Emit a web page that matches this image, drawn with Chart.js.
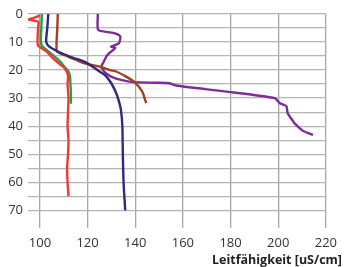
<!DOCTYPE html>
<html>
<head>
<meta charset="utf-8">
<script src="https://cdn.jsdelivr.net/npm/chart.js@4/dist/chart.umd.min.js"></script>
<style>
  html, body { margin: 0; padding: 0; background: #fff; }
  #wrap { width: 344px; height: 267px; position: relative; }
</style>
</head>
<body>
<div id="wrap"><canvas id="leitChart"></canvas></div>
<script>
var xTicks = [100, 120, 140, 160, 180, 200, 220];
var depthTicks = [0, 5, 10, 15, 20, 25, 30, 35, 40, 45, 50, 55, 60, 65, 70];
var xTitle = 'Leitfähigkeit [uS/cm]';

var redDepth = [0.5, 1.2, 2, 2.8, 5, 10, 11.2, 12, 13.3, 15.7, 17.5, 19, 20.5, 22, 25, 30, 35, 40, 45, 50, 55, 60, 65];
var redValue = [100, 98, 95.3, 99.4, 99.2, 99, 99.2, 100.4, 102.7, 105.4, 107.8, 110, 111.2, 111.8, 111.6, 112, 111.8, 111.6, 112, 111.8, 111.4, 111.6, 112];

var greenDepth = [0, 5, 10, 11.5, 13, 15, 17, 19, 20.5, 22, 25, 28, 32];
var greenValue = [100.8, 100.6, 100.4, 101, 103, 106, 108.5, 110.5, 112, 112.6, 112.8, 113, 113];

var navyDepth = [0, 5, 9.5, 11, 12.1, 13.9, 15.7, 16.9, 18.7, 20.5, 21.7, 24.6, 28.2, 31, 34.2, 40, 50, 60, 70];
var navyValue = [103.5, 103.1, 102.6, 103.2, 104.8, 108.9, 114.3, 118.4, 122, 125, 127.2, 129.9, 132, 133.1, 134, 134.6, 134.8, 135.1, 135.8];

var brownDepth = [0, 5, 10, 13.4, 15.1, 16.3, 17.5, 18.2, 18.9, 20, 20.5, 22, 24.1, 27.6, 31.8];
var brownValue = [107.5, 107.3, 107, 107.2, 111.6, 115, 118.4, 122, 125.5, 129.5, 132, 135.5, 139.5, 142.9, 144.6];

var purpleDepth = [0, 5.6, 6.4, 6.9, 8, 10.4, 11.6, 12.1, 13.9, 15.1, 17, 18.7, 20, 21.3, 22.3, 23.5, 24.3, 24.5, 24.7, 25.5, 27.6, 30, 31.8, 32.8, 35.4, 37.8, 38.9, 41.3, 41.9, 43.1];
var purpleValue = [124.3, 124.4, 128, 131.5, 133.7, 133.2, 129.9, 131.6, 129.2, 127.9, 126.8, 125.8, 126.5, 128, 129.9, 134, 139.4, 149, 154.3, 157.1, 177.6, 198.6, 200.7, 203.4, 204, 205.9, 206.8, 209.8, 210.9, 214.6];

function buildDataset(depth, value, color) {
  var pts = [];
  for (var i = 0; i < depth.length; i++) {
    pts.push({ x: value[i], y: depth[i] });
  }
  return {
    data: pts,
    showLine: true,
    fill: false,
    borderColor: color,
    backgroundColor: color,
    borderWidth: 2.4,
    pointRadius: 0,
    tension: 0.2
  };
}

var tickFont = { family: 'Open Sans', size: 13 };

var titlePlugin = {
  id: 'xTitle',
  afterDraw: function (chart) {
    var ctx = chart.ctx;
    ctx.save();
    ctx.font = 'bold 12.5px "Open Sans"';
    ctx.fillStyle = '#222';
    ctx.textAlign = 'right';
    ctx.textBaseline = 'middle';
    ctx.fillText(xTitle, 342, 260);
    ctx.restore();
  }
};

new Chart(document.getElementById('leitChart').getContext('2d'), {
  type: 'scatter',
  data: {
    datasets: [
      buildDataset(navyDepth, navyValue, '#2d2b7c'),
      buildDataset(brownDepth, brownValue, '#a4401c'),
      buildDataset(redDepth, redValue, '#ee3a33'),
      buildDataset(greenDepth, greenValue, '#22a04f'),
      buildDataset(purpleDepth, purpleValue, '#7f2c97')
    ]
  },
  plugins: [titlePlugin],
  options: {
    responsive: true,
    maintainAspectRatio: false,
    animation: false,
    events: [],
    layout: { padding: { top: 14, right: 10, left: 0, bottom: 0 } },
    plugins: {
      legend: { display: false },
      tooltip: { enabled: false }
    },
    scales: {
      x: {
        type: 'linear',
        min: 95,
        max: 220,
        afterBuildTicks: function (scale) {
          scale.ticks = xTicks.map(function (v) { return { value: v }; });
        },
        afterFit: function (scale) { scale.height = 39; },
        border: { display: false },
        grid: { color: '#a6a6a6', lineWidth: 1.3, drawTicks: false },
        ticks: { font: tickFont, color: '#333', padding: 7, maxRotation: 0, autoSkip: false }
      },
      y: {
        type: 'linear',
        reverse: true,
        min: 0,
        max: 76.3,
        afterBuildTicks: function (scale) {
          scale.ticks = depthTicks.map(function (v) { return { value: v }; });
        },
        afterFit: function (scale) { scale.width = 28; },
        border: { display: false },
        grid: { color: '#b4b4b4', lineWidth: 1.3, drawTicks: false },
        ticks: {
          font: tickFont,
          color: '#333',
          padding: 5,
          autoSkip: false,
          callback: function (v) { return v % 10 === 0 ? v : ''; }
        }
      }
    }
  }
});
</script>
</body>
</html>
